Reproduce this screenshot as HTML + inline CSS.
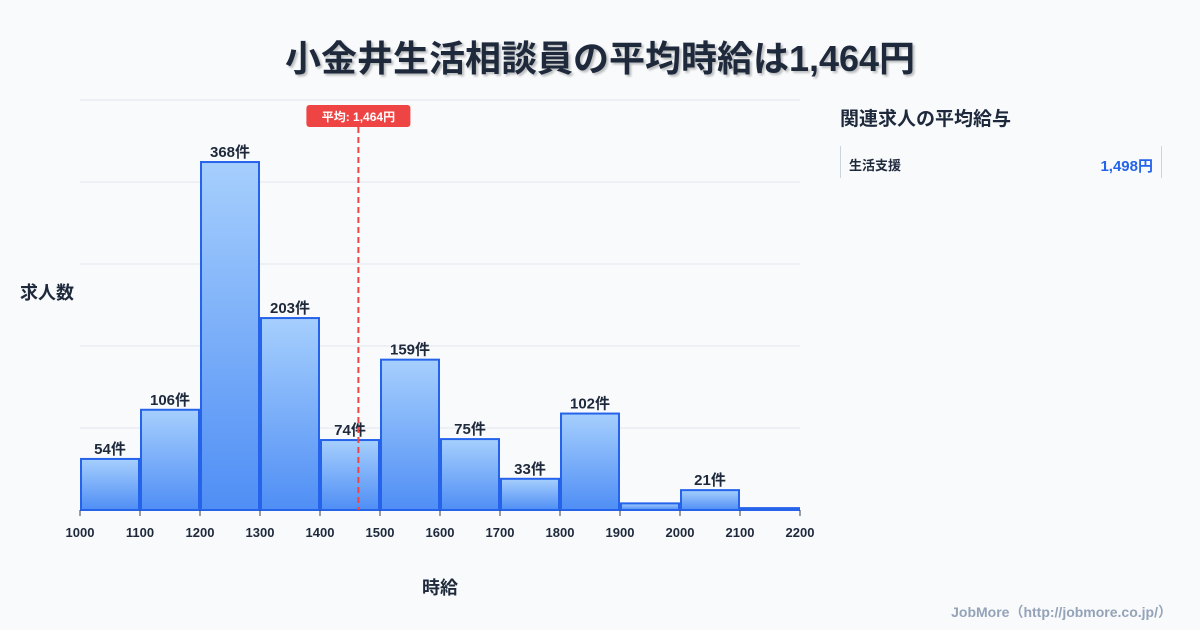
<!DOCTYPE html>
<html><head><meta charset="utf-8">
<style>
body{margin:0;width:1200px;height:630px;background:#f8fafc;font-family:"Liberation Sans","Noto Sans CJK JP",sans-serif;overflow:hidden;position:relative;color:#1e293b}
#title{position:absolute;top:30px;left:0;width:1200px;text-align:center;font-size:36px;font-weight:bold;color:#1e293b;text-shadow:2px 2px 2px rgba(0,0,0,0.25)}
#legend-title{position:absolute;left:840px;top:104px;font-size:19px;font-weight:bold}
#legend-row{position:absolute;left:840px;top:146px;width:320px;height:32px;border-left:1px solid #cbd5e1;border-right:1px solid #cbd5e1}
#legend-row .n{position:absolute;left:8px;top:9px;font-size:13px;font-weight:bold}
#legend-row .v{position:absolute;right:8px;top:9px;font-size:15px;font-weight:bold;color:#2563eb}
#footer{position:absolute;right:28px;top:602px;font-size:14px;font-weight:bold;color:#94a3b8}
svg{position:absolute;left:0;top:0}
</style></head><body>
<div id="title">小金井生活相談員の平均時給は1,464円</div>
<div id="legend-title">関連求人の平均給与</div>
<div id="legend-row"><span class="n">生活支援</span><span class="v">1,498円</span></div>
<div id="footer">JobMore（http://jobmore.co.jp/）</div>
<svg id="chart" width="1200" height="630">
<defs><linearGradient id="g" x1="0" y1="0" x2="0" y2="1"><stop offset="0" stop-color="#a6cffd"/><stop offset="1" stop-color="#4f8ef5"/></linearGradient></defs>
</svg>
<script>
const binStarts=[1000,1100,1200,1300,1400,1500,1600,1700,1800,1900,2000,2100];
const counts=[54,106,368,203,74,159,75,33,102,7,21,2];
const showLabel=[true,true,true,true,true,true,true,true,true,false,true,false];
const xTicks=[1000,1100,1200,1300,1400,1500,1600,1700,1800,1900,2000,2100,2200];
const avg=1464;
const svg=document.getElementById('chart');
const NS='http://www.w3.org/2000/svg';
const X0=80,X1=800,Y0=510,YT=100,xmin=1000,xmax=2200,ymax=433.6;
const x=v=>X0+(v-xmin)/(xmax-xmin)*(X1-X0);
const y=v=>Y0-v/ymax*(Y0-YT);
function mk(t,a,txt){const e=document.createElementNS(NS,t);for(const k in a)e.setAttribute(k,a[k]);if(txt!=null)e.textContent=txt;svg.appendChild(e);return e;}
for(let i=0;i<=5;i++){const gy=Y0-i*(Y0-YT)/5;const l=mk('line',{x1:X0,x2:X1,y1:gy,y2:gy,stroke:'#e2e8f0','stroke-width':1});

}
binStarts.forEach((b,i)=>{
 const bx=x(b)+1,bw=x(b+100)-x(b)-2,by=y(counts[i]);
 const r=mk('rect',{x:bx,y:by,width:bw,height:Y0-by,fill:'url(#g)',stroke:'#2563eb','stroke-width':2});
 
 
 if(showLabel[i]){const t=mk('text',{x:x(b+50),y:by-5,'text-anchor':'middle','font-size':15,'font-weight':'bold',fill:'#1e293b'},counts[i]+'件');
 
 }
});
xTicks.forEach(v=>{
 const tk=mk('line',{x1:x(v),x2:x(v),y1:Y0,y2:Y0+6,stroke:'#334155','stroke-width':1});
 
 
 const t=mk('text',{x:x(v),y:537,'text-anchor':'middle','font-size':13,'font-weight':'bold',fill:'#1e293b'},v);
 
 
});
const al=mk('line',{x1:x(avg),x2:x(avg),y1:127,y2:Y0,stroke:'#ef4444','stroke-width':2,'stroke-dasharray':'6,4'});


const ab=mk('rect',{x:x(avg)-52,y:105,width:104,height:22,rx:3,fill:'#ef4444'});


const at=mk('text',{x:x(avg),y:121,'text-anchor':'middle','font-size':12,'font-weight':'bold',fill:'#fff'},'平均: 1,464円');


const yt=mk('text',{x:20,y:299,'font-size':18,'font-weight':'bold',fill:'#1e293b'},'求人数');


const xt=mk('text',{x:440,y:594,'text-anchor':'middle','font-size':18,'font-weight':'bold',fill:'#1e293b'},'時給');


</script>
</body></html>
